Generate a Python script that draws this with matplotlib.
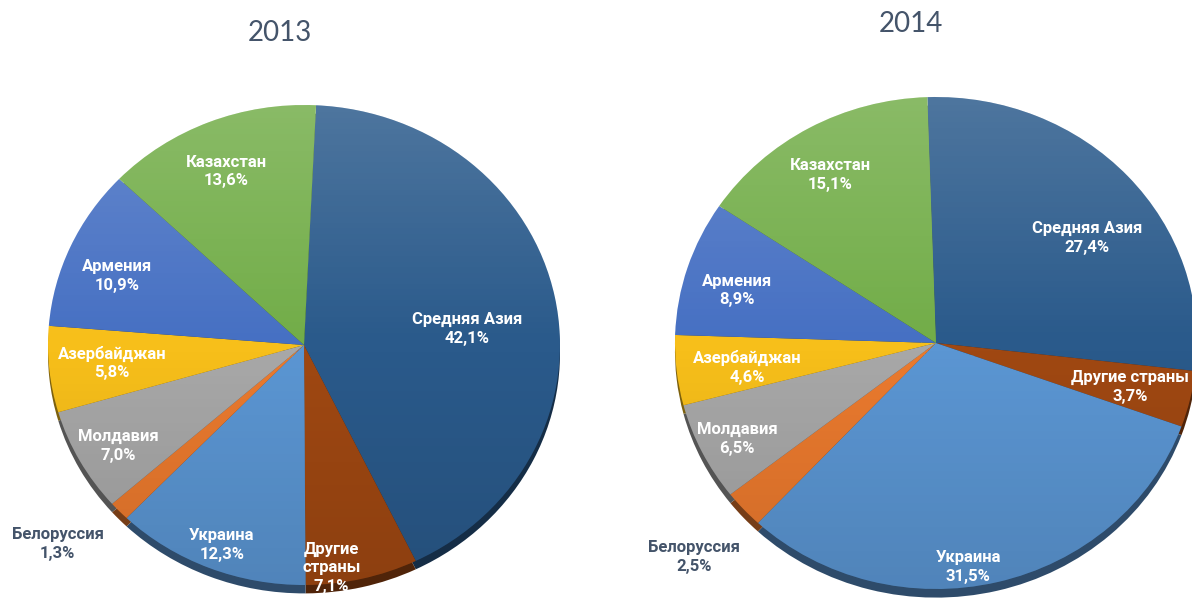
import numpy as np
import matplotlib.pyplot as plt
from matplotlib.colors import to_rgb
from matplotlib.patches import Ellipse

# data
categories = ['Средняя Азия', 'Другие страны', 'Украина', 'Белоруссия',
              'Молдавия', 'Азербайджан', 'Армения', 'Казахстан']
share_2013 = [42.1, 7.1, 12.3, 1.3, 7.0, 5.8, 10.9, 13.6]
share_2014 = [27.4, 3.7, 31.5, 2.5, 6.5, 4.6, 8.9, 15.1]
years = ['2013', '2014']

colors = ['#2A5A8B', '#A04812', '#5B96D3', '#EB7A2E',
          '#A8A8A8', '#F7BF1A', '#4670C3', '#72AD48']
label_colors = ['white', 'white', 'white', '#44546A',
                'white', 'white', 'white', 'white']

# label placement: (radius, angle nudge in degrees) per slice
place_2013 = [(0.64, -5.5), (0.935, -6.5), (0.894, 0.7), (1.27, -3.0),
              (0.838, 1.2), (0.753, -0.1), (0.786, 2.7), (0.785, 1.1)]
place_2014 = [(0.719, -6.2), (0.765, -0.4), (0.918, -5.8), (1.27, 0.7),
              (0.856, 0.7), (0.73, 1.4), (0.793, 2.3), (0.794, 1.7)]

W, H = 1192, 608
fig = plt.figure(figsize=(W / 100, H / 100), dpi=100, facecolor='white')


def fmt(v):
    return f"{v:.1f}".replace('.', ',') + '%'


def draw_pie(values, cx, cy, rx, ry, start, place, wrap_other):
    span = 1.4
    ax = fig.add_axes([(cx - span * rx) / W, (H - cy - span * ry) / H,
                       2 * span * rx / W, 2 * span * ry / H])
    side = [tuple(c * 0.5 for c in to_rgb(col)) for col in colors]
    ax.pie(values, colors=side, startangle=start, counterclock=False,
           center=(0, -0.035), radius=1, wedgeprops={'linewidth': 0, 'zorder': 1})
    wedges, _ = ax.pie(values, colors=colors, startangle=start, counterclock=False,
                       radius=1, wedgeprops={'linewidth': 0, 'zorder': 2})

    # soft light-to-dark shading like the office 3D pie
    t = np.linspace(0, 1, 256)[:, None]
    grad = np.zeros((256, 2, 4))
    top = t < 0.5
    grad[..., :3] = np.where(top[..., None], 1.0, 0.0)
    grad[..., 3] = np.where(top, 0.17 * (1 - t / 0.5), 0.12 * (t - 0.5) / 0.5)
    im = ax.imshow(grad, extent=(-1, 1, -1, 1), aspect='auto', zorder=3)
    im.set_clip_path(Ellipse((0, 0), 2, 2, transform=ax.transData))

    for i, w in enumerate(wedges):
        r, d = place[i]
        ang = np.deg2rad((w.theta1 + w.theta2) / 2 + d)
        name = categories[i]
        if wrap_other and name == 'Другие страны':
            name = 'Другие\nстраны'
        ax.text(r * np.cos(ang), r * np.sin(ang), f"{name}\n{fmt(values[i])}",
                ha='center', va='center', color=label_colors[i],
                fontsize=12, fontweight='bold', family=['Roboto', 'DejaVu Sans'],
                linespacing=1.3, zorder=5)

    ax.set_aspect('auto')
    ax.set_xlim(-span, span)
    ax.set_ylim(-span, span)
    ax.axis('off')


draw_pie(share_2013, 304, 345, 256, 240, 87.3, place_2013, True)
draw_pie(share_2014, 936, 343, 261, 246, 91.9, place_2014, False)

for yr, (tx, ty) in zip(years, [(280, 33), (911, 24)]):
    fig.text(tx / W, 1 - ty / H, yr, ha='center', va='center', fontsize=20,
             color='#44546A', fontweight='normal', family=['Lato', 'DejaVu Sans'])

fig.savefig('out.png', dpi=100, facecolor='white')
